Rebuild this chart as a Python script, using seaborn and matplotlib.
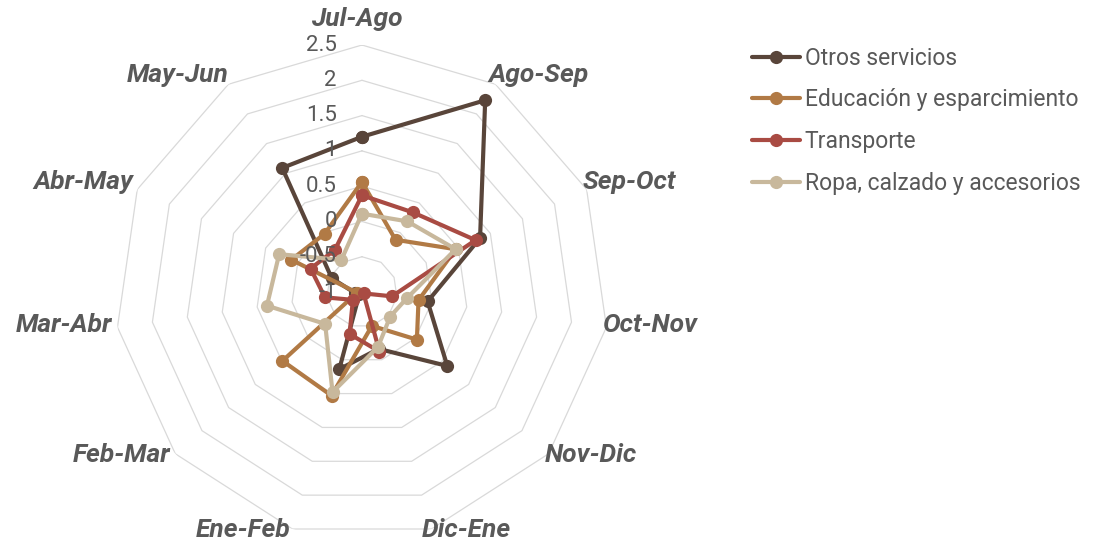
import numpy as np
import pandas as pd
import seaborn as sns
import matplotlib.pyplot as plt

# Data
categories = ['Jul-Ago', 'Ago-Sep', 'Sep-Oct', 'Oct-Nov', 'Nov-Dic', 'Dic-Ene',
              'Ene-Feb', 'Feb-Mar', 'Mar-Abr', 'Abr-May', 'May-Jun']
otros = [1.20, 2.23, 0.84, -0.06, 0.60, -0.16, 0.14, -0.95, -0.90, -0.53, 1.09]
educacion = [0.56, -0.12, 0.46, -0.19, 0.03, -0.50, 0.53, 0.49, -0.93, 0.10, -0.02]
transporte = [0.37, 0.34, 0.77, -0.57, -0.97, -0.12, -0.38, -0.83, -0.47, -0.20, -0.29]
ropa = [0.11, 0.19, 0.46, -0.36, -0.47, -0.19, 0.48, -0.31, 0.36, 0.29, -0.46]

series_names = ['Otros servicios', 'Educación y esparcimiento', 'Transporte',
                'Ropa, calzado y accesorios']
series_values = [otros, educacion, transporte, ropa]
colors = ['#59453A', '#B17A45', '#A94B43', '#C8B89C']
rticks = [-1, -0.5, 0, 0.5, 1, 1.5, 2, 2.5]

sns.set_theme(style='white')
plt.rcParams['font.family'] = ['Roboto', 'DejaVu Sans']

fig = plt.figure(figsize=(10.99, 5.49), dpi=100)
ax = fig.add_axes([0.1046, 0.0182, 0.4495, 0.8998], projection='polar')
ax.set_theta_zero_location('N')
ax.set_theta_direction(-1)

n = len(categories)
theta = np.linspace(0, 2 * np.pi, n, endpoint=False)
theta_closed = np.append(theta, 2 * np.pi)

# polygon grid
for r in rticks[1:]:
    ax.plot(theta_closed, [r] * (n + 1), color='#D9D9D9', lw=0.9, zorder=0)

for name, vals, c in zip(series_names, series_values, colors):
    df = pd.DataFrame({'theta': theta_closed, 'value': vals + vals[:1]})
    sns.lineplot(data=df, x='theta', y='value', ax=ax, sort=False, color=c,
                 lw=3, marker='o', markersize=9.5, markeredgewidth=0,
                 label=name, legend=False)

ax.set_ylim(-1, 2.5)
ax.set_xticks([])
ax.set_yticks([])
ax.grid(False)
ax.spines['polar'].set_visible(False)
ax.set_xlabel('')
ax.set_ylabel('')

# radial tick labels
for r in rticks:
    ax.annotate(f'{r:g}', xy=(0, r), xytext=(-25, 0), textcoords='offset pixels',
                ha='right', va='center', fontsize=16, color='#595959',
                zorder=5)

# category labels
label_offsets = [(-5, 26, 'center'), (-7, 9, 'left'), (-4, 7, 'left'),
                 (-3, 2, 'left'), (-4, -1, 'left'), (-10, -1, 'left'),
                 (-2, -1, 'right'), (-5, -1, 'right'), (-5, 2, 'right'),
                 (-4, 7, 'right'), (0, 9, 'right')]
for t, lab, (dx, dy, ha) in zip(theta, categories, label_offsets):
    ax.annotate(lab, xy=(t, 2.5), xytext=(dx, dy), textcoords='offset pixels',
                ha=ha, va='center', fontsize=19, fontweight='bold',
                fontstyle='italic', color='#595959', annotation_clip=False)

handles, labels = ax.get_legend_handles_labels()
fig.legend(handles, labels, loc='upper left', bbox_to_anchor=(0.6735, 0.936),
           frameon=False, fontsize=16.5, handlelength=2.1, handletextpad=0.22,
           labelspacing=0.82, borderpad=0, labelcolor='#595959')

fig.savefig('out.png', dpi=100)
